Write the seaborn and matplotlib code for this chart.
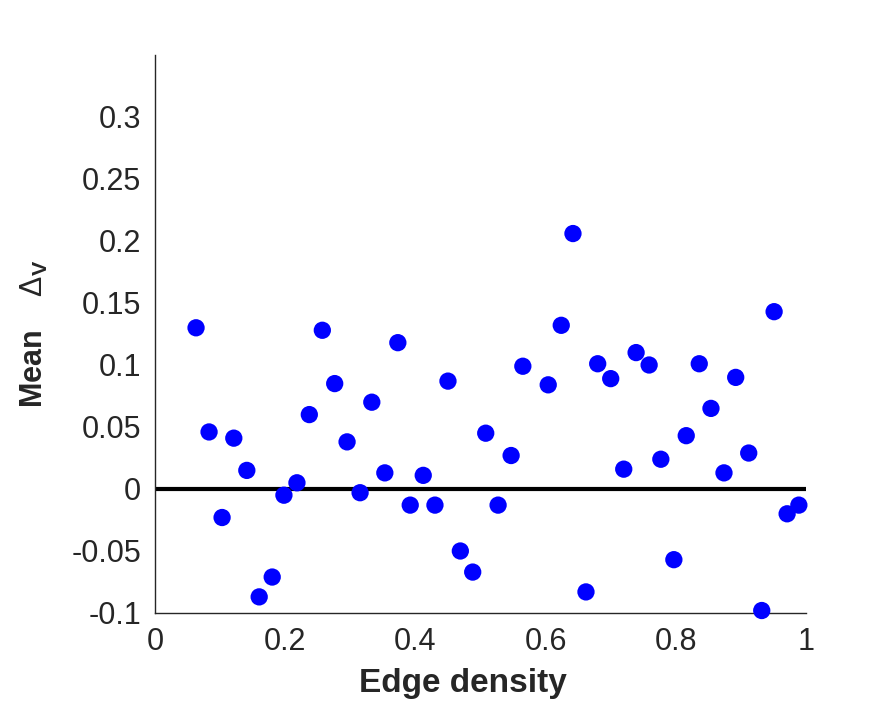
import numpy as np
import matplotlib
matplotlib.use("Agg")
import matplotlib.pyplot as plt
import seaborn as sns
import pandas as pd

# edge density (x) and mean Delta_V (y)
edge_density = [0.063, 0.083, 0.103, 0.121, 0.141, 0.160, 0.180, 0.198,
                0.218, 0.237, 0.257, 0.276, 0.295, 0.315, 0.333, 0.353,
                0.373, 0.392, 0.412, 0.430, 0.450, 0.469, 0.488, 0.508,
                0.527, 0.547, 0.565, 0.604, 0.624, 0.642, 0.662, 0.680,
                0.700, 0.720, 0.739, 0.759, 0.777, 0.797, 0.816, 0.836,
                0.854, 0.874, 0.892, 0.912, 0.932, 0.951, 0.971, 0.989]
mean_delta = [0.130, 0.046, -0.023, 0.041, 0.015, -0.087, -0.071, -0.005,
              0.005, 0.060, 0.128, 0.085, 0.038, -0.003, 0.070, 0.013,
              0.118, -0.013, 0.011, -0.013, 0.087, -0.050, -0.067, 0.045,
              -0.013, 0.027, 0.099, 0.084, 0.132, 0.206, -0.083, 0.101,
              0.089, 0.016, 0.110, 0.100, 0.024, -0.057, 0.043, 0.101,
              0.065, 0.013, 0.090, 0.029, -0.098, 0.143, -0.020, -0.013]

x_ticks = [0, 0.2, 0.4, 0.6, 0.8, 1]
x_tick_labels = ["0", "0.2", "0.4", "0.6", "0.8", "1"]
y_ticks = [-0.1, -0.05, 0, 0.05, 0.1, 0.15, 0.2, 0.25, 0.3]
y_tick_labels = ["-0.1", "-0.05", "0", "0.05", "0.1", "0.15", "0.2", "0.25", "0.3"]

df = pd.DataFrame({"density": edge_density, "delta": mean_delta})

sns.set_style("white")
plt.rcParams['font.family'] = ['Liberation Sans', 'DejaVu Sans']
plt.rcParams['mathtext.fontset'] = 'custom'
plt.rcParams['mathtext.rm'] = 'Liberation Sans'
plt.rcParams['mathtext.bf'] = 'Liberation Sans:bold'

grey = "#262626"
fig = plt.figure(figsize=(8.92, 7.05), dpi=100)
ax = fig.add_axes([0.1738, 0.1305, 0.7298, 0.7915])

ax.axhline(0, color="black", lw=3, zorder=2)
sns.scatterplot(data=df, x="density", y="delta", ax=ax, color="#0000ff",
                s=155, edgecolor="none", zorder=3, clip_on=False, legend=False)

ax.set_xlim(0, 1)
ax.set_ylim(-0.1, 0.35)
ax.set_xticks(x_ticks)
ax.set_xticklabels(x_tick_labels)
ax.set_yticks(y_ticks)
ax.set_yticklabels(y_tick_labels)
ax.tick_params(direction="in", length=5, width=1, colors=grey, labelsize=22, pad=10)

for side in ["top", "right"]:
    ax.spines[side].set_visible(False)
for side in ["left", "bottom"]:
    ax.spines[side].set_color(grey)
    ax.spines[side].set_linewidth(1)

ax.set_xlabel("Edge density", fontsize=24, fontweight="bold", color=grey)
ax.xaxis.set_label_coords(0.473, -0.098)
ax.xaxis.label.set_va("top")
ax.set_ylabel(r"Mean    $\Delta_\mathbf{V}$", fontsize=22, fontweight="bold", color=grey)
ax.yaxis.set_label_coords(-0.162, 0.5)

plt.savefig("out.png", dpi=100)
